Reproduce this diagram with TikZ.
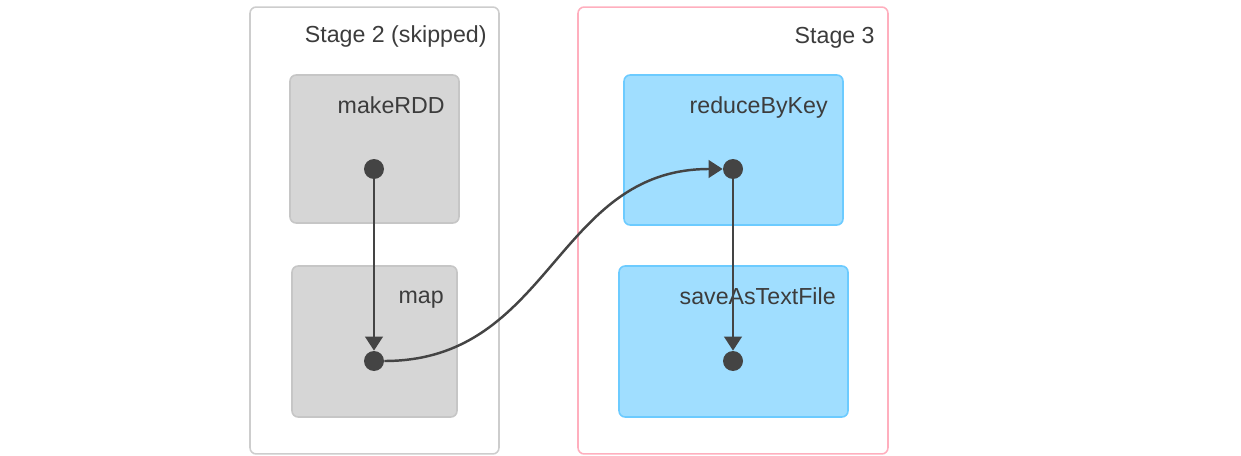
\documentclass[tikz,border=0pt]{standalone}
\usepackage{fontspec}
\setmainfont{Liberation Sans}
\usetikzlibrary{arrows.meta}
\definecolor{skipline}{HTML}{CDCDCD}
\definecolor{stageline}{HTML}{FFAFBE}
\definecolor{skipfill}{HTML}{D6D6D6}
\definecolor{skiprim}{HTML}{C6C6C6}
\definecolor{rddfill}{HTML}{A0DEFF}
\definecolor{rddrim}{HTML}{6CCBFF}
\definecolor{edgegray}{HTML}{444444}
\definecolor{labelgray}{HTML}{3C3C3C}

\begin{document}
\begin{tikzpicture}[x=0.02cm,y=-0.02cm,
    stagebox/.style={draw, fill=white, rounded corners=3.5pt, line width=0.9pt, inner sep=0},
    rddbox/.style={draw, rounded corners=3.5pt, line width=0.9pt, inner sep=0, minimum height=3.02cm},
    boxlabel/.style={anchor=base east, inner sep=0, text=labelgray, font=\fontsize{13.2}{15}\selectfont},
    dot/.style={circle, fill=edgegray, minimum size=0.4cm, inner sep=0},
    flow/.style={draw=edgegray, line width=1.4pt, -{Triangle[width=10pt,length=8pt]}}]
    \useasboundingbox (0,0) rectangle (1241,456);

    % Draw the stages
    \node[stagebox, draw=skipline, minimum width=4.98cm, minimum height=8.94cm] (stagetwo) at (374.5,230.5) {};
    \node[stagebox, draw=stageline, minimum width=6.2cm, minimum height=8.94cm] (stagethree) at (733,230.5) {};
    \node[boxlabel] (stagetwolabel) at (487,43) {Stage 2 (skipped)};
    \node[boxlabel] (stagethreelabel) at (875,44) {Stage 3};

    % Draw the RDD boxes
    \node[rddbox, draw=skiprim, fill=skipfill, minimum width=3.38cm, minimum height=2.96cm] (makerddbox) at (374.5,149) {};
    \node[rddbox, draw=skiprim, fill=skipfill, minimum width=3.3cm] (mapbox) at (374.5,341.5) {};
    \node[rddbox, draw=rddrim, fill=rddfill, minimum width=4.38cm, minimum height=3cm] (reducebykeybox) at (733.5,150) {};
    \node[rddbox, draw=rddrim, fill=rddfill, minimum width=4.58cm] (saveastextfilebox) at (733.5,341.5) {};

    % Label the RDD boxes
    \node[boxlabel] (makerddlabel) at (445,113) {makeRDD};
    \node[boxlabel] (maplabel) at (444,303) {map};
    \node[boxlabel] (reducebykeylabel) at (828,113) {reduceByKey};
    \node[boxlabel] (saveastextfilelabel) at (836,304) {saveAsTextFile};

    % Draw the operations
    \node[dot] (makerdd) at (374,169) {};
    \node[dot] (map) at (374,361) {};
    \node[dot] (reducebykey) at (733,169) {};
    \node[dot] (saveastextfile) at (733,361) {};

    % Draw the dependencies
    \draw[flow] (makerdd) -- (map);
    \draw[flow] (map) to[out=0, in=180, looseness=1.1] (reducebykey);
    \draw[flow] (reducebykey) -- (saveastextfile);
\end{tikzpicture}
\end{document}
